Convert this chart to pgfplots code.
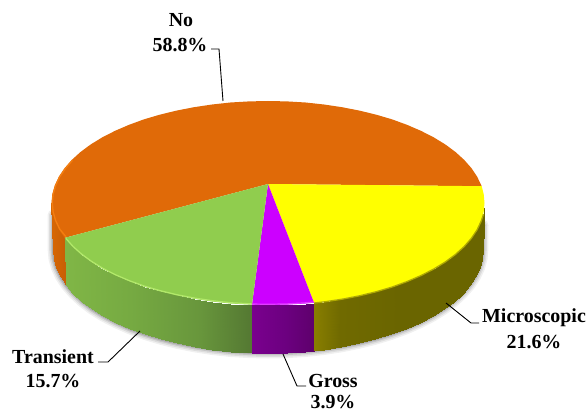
\documentclass[border=0pt]{standalone}
\usepackage{pgfplots}
\usepackage{pgfplotstable}
\usepackage{fontspec}
\setmainfont{Liberation Serif}
\pgfplotsset{compat=1.18}
\pgfplotsset{
  colormap={sideorange}{rgb255(0pt)=(214,102,4); rgb255(53pt)=(214,102,4); rgb255(66pt)=(198,94,6); rgb255(587pt)=(198,94,6)},
  colormap={sidegreen}{rgb255(0pt)=(128,182,70); rgb255(66pt)=(128,182,70); rgb255(130pt)=(118,170,66); rgb255(200pt)=(104,150,60); rgb255(252pt)=(84,120,50); rgb255(587pt)=(84,120,50)},
  colormap={sidepurple}{rgb255(0pt)=(122,0,142); rgb255(252pt)=(122,0,142); rgb255(285pt)=(108,0,128); rgb255(314pt)=(94,0,108); rgb255(587pt)=(94,0,108)},
  colormap={sideyellow}{rgb255(0pt)=(136,126,0); rgb255(314pt)=(136,126,0); rgb255(340pt)=(112,106,0); rgb255(400pt)=(106,101,0); rgb255(587pt)=(106,101,0)},
}
% Outer rim of the base, used for the drop shadow
\pgfplotstableread{
x y
53 215
53.2 250
54 259
56.5 267.9
60.6 276.7
66.2 285.2
73.4 293.5
82 301.5
92 309.1
103.5 316.3
116.1 322.8
129.9 328.9
144.8 334.4
160.6 339.2
177.2 343.3
194.6 346.8
212.4 349.5
230.7 351.5
249.3 352.6
268 353
286.7 352.6
305.3 351.5
323.6 349.5
341.4 346.8
358.8 343.3
375.4 339.2
391.2 334.4
406.1 328.9
419.9 322.8
432.5 316.3
444 309.1
454 301.5
462.6 293.5
469.8 285.2
475.4 276.7
479.5 267.9
482 259
482.8 250
483 225
}\baserim
\begin{document}
\begin{tikzpicture}
\useasboundingbox (0,0) rectangle (587bp,412bp);
\begin{axis}[
  at={(0,0)}, anchor=south west,
  scale only axis, width=587bp, height=412bp,
  xmin=0, xmax=587, ymin=0, ymax=412, y dir=reverse,
  hide axis, clip=false,
  point meta min=0, point meta max=587,
]
% Soft shadow under the base
\addplot[draw=black, opacity=.06, line width=11bp, line join=round, line cap=round, forget plot] table[x=x,y=y] {\baserim};
\addplot[draw=black, opacity=.08, line width=8bp, line join=round, line cap=round, forget plot] table[x=x,y=y] {\baserim};
\addplot[draw=black, opacity=.11, line width=5bp, line join=round, line cap=round, forget plot] table[x=x,y=y] {\baserim};
\addplot[draw=black, opacity=.14, line width=2.5bp, line join=round, line cap=round, forget plot] table[x=x,y=y] {\baserim};

% Side wall, one strip per slice: upper scanline then lower scanline
\addplot[surf, shader=interp, colormap name=sideorange, mesh/rows=2, point meta=x, forget plot] table[row sep=crcr] {
x y\\
51.5 203\\ 52.3 211.9\\ 54.8 220.7\\ 58.9 229.4\\ 64.6 237.9\\
53.2 250\\ 54 259\\ 56.5 267.9\\ 60.6 276.7\\ 66.2 285.2\\
};
\addplot[surf, shader=interp, colormap name=sidegreen, mesh/rows=2, point meta=x, forget plot] table[row sep=crcr] {
x y\\
64.6 237.9\\ 71.8 246.1\\ 80.5 254\\ 90.6 261.5\\ 102.2 268.6\\ 114.9 275.1\\ 128.8 281.1\\ 143.8 286.6\\ 159.7 291.3\\ 176.5 295.4\\ 194 298.8\\ 212 301.5\\ 230.4 303.5\\ 252 304.7\\
66.2 285.2\\ 73.4 293.5\\ 82 301.5\\ 92 309.1\\ 103.5 316.3\\ 116.1 322.8\\ 129.9 328.9\\ 144.8 334.4\\ 160.6 339.2\\ 177.2 343.3\\ 194.6 346.8\\ 212.4 349.5\\ 230.7 351.5\\ 252 352.8\\
};
\addplot[surf, shader=interp, colormap name=sidepurple, mesh/rows=2, point meta=x, forget plot] table[row sep=crcr] {
x y\\
252 304.7\\ 268 305\\ 286.9 304.6\\ 305.6 303.5\\ 314 302.7\\
252 352.8\\ 268 353\\ 286.7 352.6\\ 305.3 351.5\\ 314 350.8\\
};
\addplot[surf, shader=interp, colormap name=sideyellow, mesh/rows=2, point meta=x, forget plot] table[row sep=crcr] {
x y\\
314 302.7\\ 324 301.5\\ 342 298.8\\ 359.5 295.4\\ 376.3 291.3\\ 392.2 286.6\\ 407.2 281.1\\ 421.1 275.1\\ 433.8 268.6\\ 445.4 261.5\\ 455.5 254\\ 464.2 246.1\\ 471.4 237.9\\ 477.1 229.4\\ 481.2 220.7\\ 483.7 211.9\\ 484.5 203\\
314 350.8\\ 323.6 349.5\\ 341.4 346.8\\ 358.8 343.3\\ 375.4 339.2\\ 391.2 334.4\\ 406.1 328.9\\ 419.9 322.8\\ 432.5 316.3\\ 444 309.1\\ 454 301.5\\ 462.6 293.5\\ 469.8 285.2\\ 475.4 276.7\\ 479.5 267.9\\ 482 259\\ 482.8 250\\
};

% Top face of the four slices
\addplot[fill={rgb,255:red,224;green,106;blue,8}, draw=none, forget plot] coordinates {
(268,184) (481.7,186.2) (477.1,176.6) (471.4,168.1) (464.2,159.9) (455.5,152) (445.4,144.5) (433.8,137.4) (421.1,130.9) (407.2,124.9) (392.2,119.4) (376.3,114.7) (359.5,110.6) (342,107.2) (324,104.5) (305.6,102.5) (286.9,101.4) (268,101) (249.1,101.4) (230.4,102.5) (212,104.5) (194,107.2) (176.5,110.6) (159.7,114.7) (143.8,119.4) (128.8,124.9) (114.9,130.9) (102.2,137.4) (90.6,144.5) (80.5,152) (71.8,159.9) (64.6,168.1) (58.9,176.6) (54.8,185.3) (52.3,194.1) (51.5,203) (52.3,211.9) (54.8,220.7) (58.9,229.4) (64.6,237.9)
} -- cycle;
\addplot[fill={rgb,255:red,255;green,255;blue,0}, draw=none, forget plot] coordinates {
(268,184) (481.7,186.2) (483.7,194.1) (484.5,203) (483.7,211.9) (481.2,220.7) (477.1,229.4) (471.4,237.9) (464.2,246.1) (455.5,254) (445.4,261.5) (433.8,268.6) (421.1,275.1) (407.2,281.1) (392.2,286.6) (376.3,291.3) (359.5,295.4) (342,298.8) (324,301.5) (314,302.7)
} -- cycle;
\addplot[fill={rgb,255:red,204;green,0;blue,255}, draw=none, forget plot] coordinates {
(268,184) (314,302.7) (305.6,303.5) (286.9,304.6) (268,305) (252,304.7)
} -- cycle;
\addplot[fill={rgb,255:red,144;green,205;blue,78}, draw=none, forget plot] coordinates {
(268,184) (252,304.7) (230.4,303.5) (212,301.5) (194,298.8) (176.5,295.4) (159.7,291.3) (143.8,286.6) (128.8,281.1) (114.9,275.1) (102.2,268.6) (90.6,261.5) (80.5,254) (71.8,246.1) (64.6,237.9)
} -- cycle;

% Bevel along the outer edge of the top face
\addplot[draw={rgb,255:red,178;green,232;blue,106}, line width=1.2bp, forget plot] coordinates {
(66,238.5) (73,246.4) (81.5,254) (91.6,261.4) (103,268.4) (115.6,274.8) (129.4,280.7) (144.2,286) (160,290.6) (176.8,294.7) (194.3,298) (212.2,300.7) (230.5,302.7) (252,303.9)
};
\addplot[draw={rgb,255:red,176;green,170;blue,0}, line width=1.3bp, forget plot] coordinates {
(314,303) (324,301.9) (342,299.2) (359.5,295.8) (376.3,291.7) (392.2,287) (407.2,281.5) (421.1,275.5) (433.8,269) (445.4,261.9) (455.5,254.4) (464.2,246.5) (471.4,238.3) (477.1,229.8) (481.2,221.1) (483.5,214)
};
\addplot[draw={rgb,255:red,226;green,60;blue,255}, line width=1.2bp, forget plot] coordinates {
(252,304) (268,304.3) (286.9,303.9) (305.6,302.8) (314,302)
};
\addplot[draw={rgb,255:red,244;green,126;blue,16}, line width=1.3bp, forget plot] coordinates {
(66,236.8) (59.6,228.9) (55.6,220.4) (53.1,211.8) (52.3,203) (53.1,194.3) (55.6,185.6) (59.6,177) (65.3,168.6) (72.4,160.4)
};

% Leader lines
\addplot[black, line width=.9bp, forget plot] coordinates {(211,49) (219,49) (223,101)};
\addplot[black, line width=.9bp, forget plot] coordinates {(446,303) (471,323) (479,323)};
\addplot[black, line width=.9bp, forget plot] coordinates {(283,354) (297,386) (306,386)};
\addplot[black, line width=.9bp, forget plot] coordinates {(140,331) (108,362) (98,362)};

% Slice labels
\node[font=\fontsize{20}{20}\selectfont\bfseries] at (axis cs:181,20) {No};
\node[font=\fontsize{20}{20}\selectfont\bfseries] at (axis cs:180,45) {58.8\%};
\node[font=\fontsize{20}{20}\selectfont\bfseries] at (axis cs:534,318) {Microscopic};
\node[font=\fontsize{20}{20}\selectfont\bfseries] at (axis cs:534,342) {21.6\%};
\node[font=\fontsize{20}{20}\selectfont\bfseries] at (axis cs:53,357) {Transient};
\node[font=\fontsize{20}{20}\selectfont\bfseries] at (axis cs:53,381) {15.7\%};
\node[font=\fontsize{20}{20}\selectfont\bfseries] at (axis cs:333,381) {Gross};
\node[font=\fontsize{20}{20}\selectfont\bfseries] at (axis cs:333,402) {3.9\%};
\end{axis}
\end{tikzpicture}
\end{document}
